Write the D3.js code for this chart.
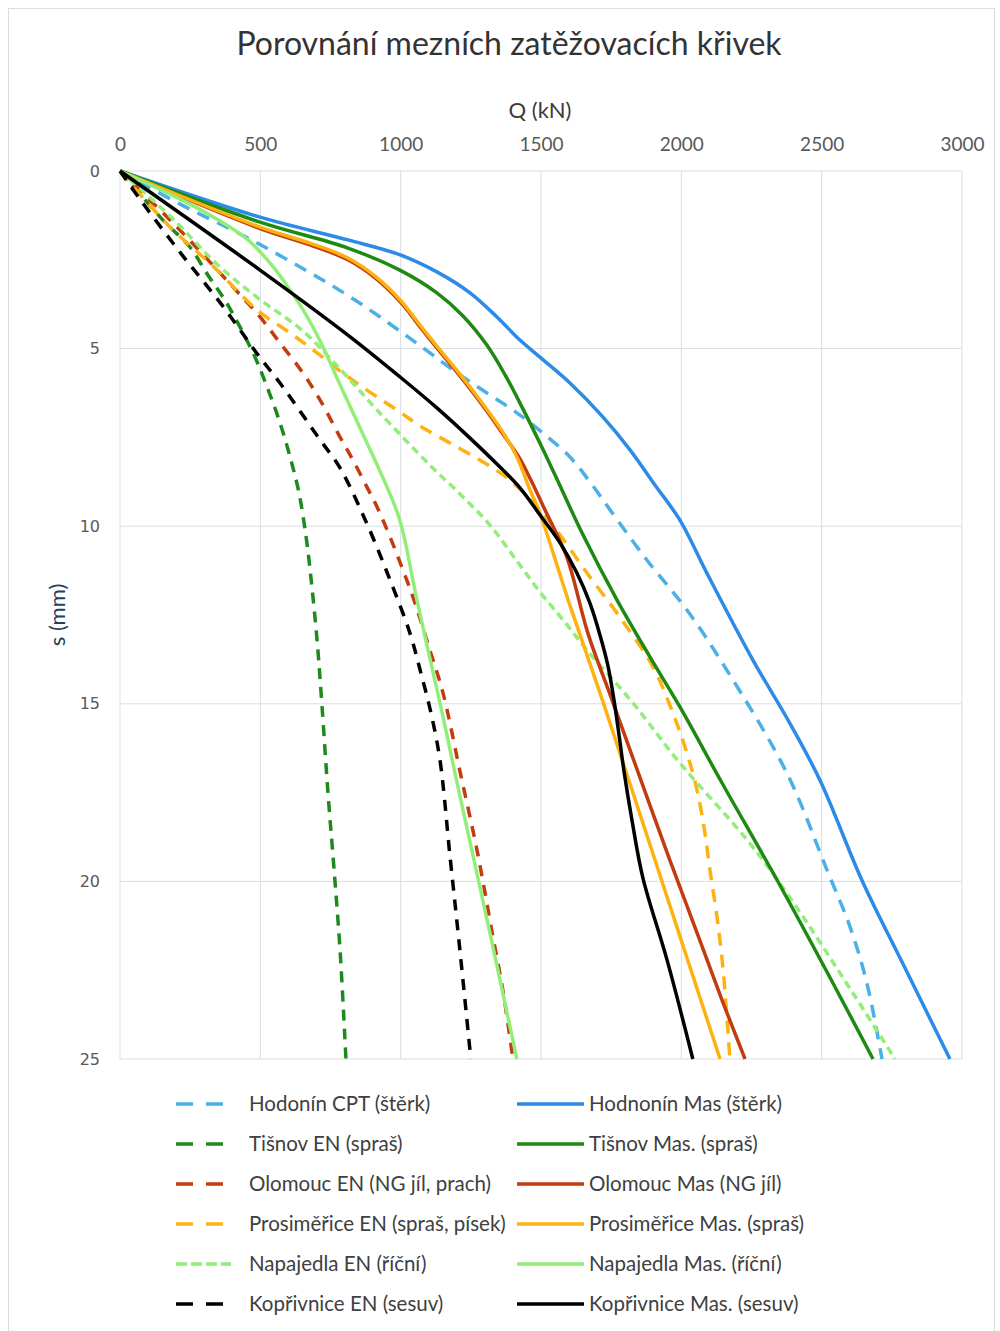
<!DOCTYPE html>
<html><head><meta charset="utf-8">
<script src="https://cdn.jsdelivr.net/npm/d3@7"></script>
<style>
body{margin:0;background:#fff;}
svg{display:block;}
</style></head>
<body><svg id="chart" width="1000" height="1331"></svg>
<script>
// ---- DATA (Q in kN, s in mm) ----
const title = "Porovnání mezních zatěžovacích křivek";
const xTitle = "Q (kN)";
const yTitle = "s (mm)";
const xTicks = [0, 500, 1000, 1500, 2000, 2500, 3000];
const yTicks = [0, 5, 10, 15, 20, 25];

const hodoninCPT = [[0,0],[221,0.96],[435,1.80],[648,2.73],[837,3.63],[1026,4.67],[1222,5.80],[1414,6.81],[1507,7.38],[1603,8.05],[1675,8.76],[1746,9.54],[1877,10.95],[2020,12.36],[2162,14.05],[2376,16.95],[2519,19.68],[2601,21.28],[2661,22.86],[2715,25]];
const hodoninMas = [[0,0],[499,1.30],[812,1.94],[998,2.36],[1129,2.84],[1247,3.43],[1343,4.11],[1425,4.76],[1496,5.24],[1603,5.97],[1721,6.93],[1817,7.85],[1906,8.84],[1995,9.83],[2091,11.32],[2255,13.77],[2376,15.40],[2494,17.15],[2643,19.96],[2797,22.44],[2957,25]];
const tisnovEN = [[0,0],[160,1.44],[249,2.14],[313,2.93],[378,3.69],[474,5.12],[524,6.08],[570,7.09],[609,8.14],[638,9.07],[663,10.30],[680,11.43],[702,13.20],[720,15.09],[741,17.51],[762,19.59],[784,21.93],[805,25]];
const tisnovMas = [[0,0],[499,1.44],[812,2.17],[997,2.79],[1129,3.43],[1222,4.08],[1307,4.90],[1372,5.74],[1432,6.64],[1496,7.66],[1550,8.56],[1650,10.25],[1771,12.08],[1888,13.68],[1995,15.09],[2145,17.23],[2341,19.96],[2540,22.86],[2683,25]];
const olomoucEN = [[0,0],[196,1.52],[403,3.27],[499,4.11],[570,4.84],[652,5.69],[713,6.45],[784,7.49],[830,8.14],[880,8.90],[916,9.46],[962,10.30],[1008,11.23],[1051,12.16],[1104,13.49],[1151,14.70],[1211,16.89],[1272,19.12],[1329,21.57],[1364,23.06],[1400,25]];
const olomoucMas = [[0,0],[499,1.62],[677,2.08],[812,2.50],[909,3.01],[1005,3.74],[1069,4.39],[1129,4.98],[1211,5.77],[1293,6.61],[1364,7.40],[1421,8.05],[1464,8.70],[1514,9.54],[1592,10.87],[1667,13.01],[1753,14.89],[1856,17.15],[1959,19.40],[2059,21.51],[2145,23.34],[2227,25]];
const prosimericeEN = [[0,0],[171,1.52],[338,2.73],[488,3.91],[606,4.56],[702,5.12],[794,5.69],[880,6.17],[998,6.79],[1069,7.18],[1176,7.66],[1283,8.14],[1389,8.70],[1496,9.54],[1568,10.25],[1664,11.32],[1781,12.56],[1899,13.96],[1970,15.26],[2020,16.39],[2056,17.43],[2084,18.64],[2102,19.68],[2127,21.0],[2148,22.41],[2173,25]];
const prosimericeMas = [[0,0],[499,1.58],[677,2.03],[812,2.45],[909,2.96],[1005,3.69],[1069,4.34],[1129,4.93],[1211,5.72],[1293,6.56],[1364,7.35],[1414,8.05],[1461,8.98],[1496,9.63],[1543,10.75],[1600,12.16],[1721,14.95],[1856,18.19],[1991,21.45],[2138,25]];
const napajedlaEN = [[0,0],[185,1.32],[349,2.65],[492,3.58],[648,4.48],[794,5.66],[916,6.73],[1104,8.28],[1211,9.09],[1318,9.97],[1407,10.90],[1496,11.85],[1585,12.70],[1664,13.49],[1828,14.98],[1995,16.67],[2234,18.83],[2376,20.33],[2611,23.14],[2761,25]];
const napajedlaMas = [[0,0],[221,0.82],[338,1.32],[456,1.94],[541,2.65],[606,3.35],[663,4.05],[720,4.90],[784,6.02],[862,7.35],[937,8.64],[997,9.83],[1058,12.08],[1111,13.96],[1151,15.37],[1201,17.23],[1318,21.45],[1414,25]];
const koprivniceEN = [[0,0],[78,0.87],[221,2.36],[363,3.77],[492,5.18],[570,5.97],[713,7.57],[784,8.36],[877,9.88],[962,11.51],[1033,13.01],[1072,14.13],[1108,15.26],[1140,16.58],[1176,19.31],[1211,21.93],[1250,25]];
const koprivniceMas = [[0,0],[499,2.79],[812,4.62],[998,5.80],[1129,6.67],[1247,7.52],[1343,8.25],[1425,8.92],[1496,9.68],[1568,10.47],[1628,11.32],[1674,12.16],[1710,13.06],[1738,13.91],[1760,14.89],[1778,15.88],[1795,16.86],[1824,18.27],[1863,19.90],[1949,22.21],[2041,25]];

const seriesNames = [
  "Hodonín CPT (štěrk)", "Hodnonín Mas (štěrk)",
  "Tišnov EN (spraš)", "Tišnov Mas. (spraš)",
  "Olomouc EN (NG jíl, prach)", "Olomouc Mas (NG jíl)",
  "Prosiměřice EN (spraš, písek)", "Prosiměřice Mas. (spraš)",
  "Napajedla EN (říční)", "Napajedla Mas. (říční)",
  "Kopřivnice EN (sesuv)", "Kopřivnice Mas. (sesuv)"
];
const seriesData = [hodoninCPT, hodoninMas, tisnovEN, tisnovMas, olomoucEN, olomoucMas,
  prosimericeEN, prosimericeMas, napajedlaEN, napajedlaMas, koprivniceEN, koprivniceMas];

// ---- STYLE ----
const colors = ["#4BB0E6","#2C8BE6","#1E8A1E","#1E8A12","#C23C10","#C23C10",
  "#FDB212","#FDB212","#92EE78","#92EE78","#000000","#000000"];
const dashes = ["13,9",null,"11,8",null,"11,9",null,"13,9",null,"8,5",null,"11,9",null];
const drawOrder = [0,2,4,6,8,10,1,3,5,7,9,11];

const svg = d3.select("#chart");
const font = "Lato, 'Open Sans', sans-serif";
const M = {left:120, top:171, right:962, bottom:1059};
const x = d3.scaleLinear().domain([0,3000]).range([M.left, M.right]);
const y = d3.scaleLinear().domain([0,25]).range([M.top, M.bottom]);

svg.append("rect").attr("x",8.5).attr("y",8.5).attr("width",986).attr("height",1340)
  .attr("fill","#fff").attr("stroke","#D6E0E0").attr("stroke-width",1);

svg.append("text").attr("x",509).attr("y",55).attr("text-anchor","middle")
  .attr("font-family",font).attr("font-size",32).attr("fill","#333").text(title);

// gridlines
const grid = svg.append("g");
grid.selectAll(".vx").data(xTicks).join("line")
  .attr("x1",d=>x(d)).attr("x2",d=>x(d)).attr("y1",M.top).attr("y2",M.bottom)
  .attr("stroke","#D9DEE3").attr("stroke-width",1);
grid.selectAll(".hy").data(yTicks).join("line")
  .attr("x1",M.left).attr("x2",M.right).attr("y1",d=>y(d)).attr("y2",d=>y(d))
  .attr("stroke","#D9DEE3").attr("stroke-width",1);

// axes
const xAxis = d3.axisTop(x).tickValues(xTicks).tickFormat(d3.format("d")).tickSize(0).tickPadding(20);
const gx = svg.append("g").attr("transform",`translate(0,${M.top})`).call(xAxis);
gx.select(".domain").remove();
gx.selectAll("text").attr("font-family",font).attr("font-size",19).attr("fill","#595959");

const yAxis = d3.axisLeft(y).tickValues(yTicks).tickSize(0).tickPadding(20);
const gy = svg.append("g").attr("transform",`translate(${M.left},0)`).call(yAxis);
gy.select(".domain").remove();
gy.selectAll("text").attr("font-family","'DejaVu Sans', Verdana, sans-serif").attr("font-size",16).attr("fill","#595959");

svg.append("text").attr("x",540).attr("y",118).attr("text-anchor","middle")
  .attr("font-family",font).attr("font-size",22).attr("fill","#3B3B3B").text(xTitle);
svg.append("text").attr("transform","translate(65,615) rotate(-90)").attr("text-anchor","middle")
  .attr("font-family",font).attr("font-size",22).attr("fill","#23425F").text(yTitle);

// lines
const line = d3.line().x(d=>x(d[0])).y(d=>y(d[1])).curve(d3.curveCatmullRom.alpha(0.5));
const gl = svg.append("g");
drawOrder.forEach(i=>{
  gl.append("path").datum(seriesData[i]).attr("d",line)
    .attr("fill","none").attr("stroke",colors[i]).attr("stroke-width",3.5)
    .attr("stroke-dasharray",dashes[i]).attr("stroke-linejoin","round");
});

// legend
const lg = svg.append("g");
seriesNames.forEach((name,i)=>{
  const col = i%2, row = Math.floor(i/2);
  const ly = 1104 + row*40;
  const x0 = col===0 ? 176 : 517, x1 = col===0 ? (i===8 ? 231 : 223) : 584;
  const tx = col===0 ? 249 : 589;
  lg.append("line").attr("x1",x0).attr("x2",x1).attr("y1",ly).attr("y2",ly)
    .attr("stroke",colors[i]).attr("stroke-width",3.5)
    .attr("stroke-dasharray", dashes[i] ? (i===8 ? "11,4" : "17,13") : null);
  lg.append("text").attr("x",tx).attr("y",ly+7).attr("font-family",font).attr("font-size",20.5)
    .attr("fill","#404040").text(name);
});
</script></body></html>
